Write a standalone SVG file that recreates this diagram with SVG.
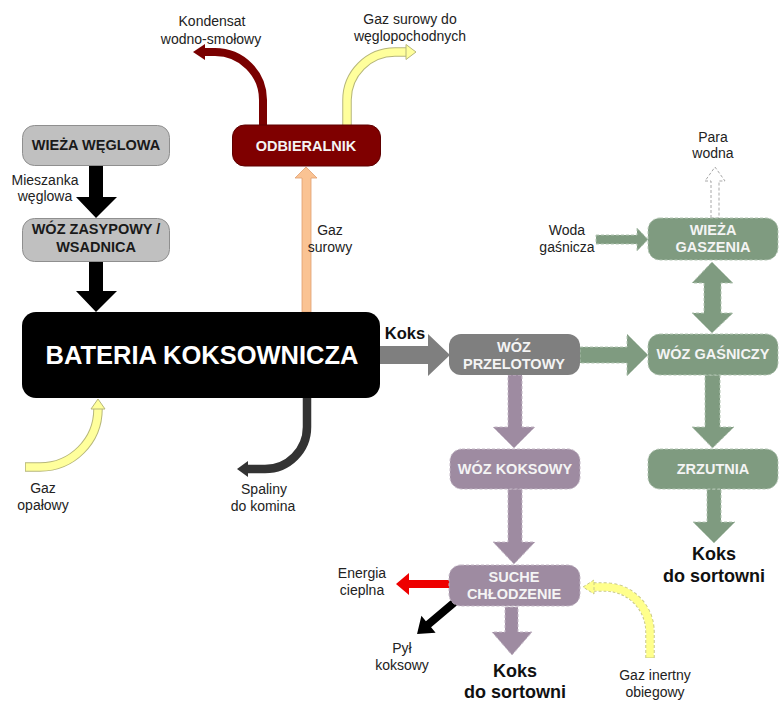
<svg xmlns="http://www.w3.org/2000/svg" width="782" height="702" viewBox="0 0 782 702">
<style>
text{font-family:"Liberation Sans",Arial,sans-serif;text-anchor:middle}
.lbl{font-size:14px;fill:#222}
.nt{font-size:14.5px;font-weight:bold}
.dark{fill:#1a1a1a}
.light{fill:#f4f4f4}
.big{font-size:18px;font-weight:bold;fill:#111}
.grayn{fill:#c0c0c0;stroke:#8f8f8f;stroke-width:1}
.pur{fill:#9e8ba1;stroke:#c4b8c6;stroke-width:1;stroke-dasharray:3 2}
.grn{fill:#7f9b80;stroke:#b4c6b4;stroke-width:1;stroke-dasharray:3 2}
</style>
<rect width="782" height="702" fill="#fff"/>
<g id="connectors">
  <polygon points="89,165 103,165 103,197 117,197 96,218 76,197 89,197" fill="#000"/>
  <polygon points="89,262 103,262 103,291 117,291 96,312 76,291 89,291" fill="#000"/>
  <polygon points="302,312 302,178 295,178 306,167 317,178 311,178 311,312" fill="#fac393" stroke="#e0a070" stroke-width="0.8"/>
  <path d="M263,125 L263,100 A48,48 0 0 0 215,52 L204,52" fill="none" stroke="#7a0000" stroke-width="8"/>
  <polygon points="205,44 193,52 205,60" fill="#7a0000"/>
  <path d="M347,125 L347,100 A48,48 0 0 1 395,52 L406,52" fill="none" stroke="#b7b77a" stroke-width="9.5"/>
  <path d="M347,125 L347,100 A48,48 0 0 1 395,52 L407,52" fill="none" stroke="#ffff9c" stroke-width="7.5"/>
  <polygon points="406,44.5 416,52 406,59.5" fill="#ffff9c" stroke="#b7b77a" stroke-width="1"/>
  <path d="M25,467 L40,467 A58,58 0 0 0 98,409 L98,408" fill="none" stroke="#b7b77a" stroke-width="9.5"/>
  <path d="M25.8,467 L40,467 A58,58 0 0 0 98,409 L98,407" fill="none" stroke="#ffff9c" stroke-width="7.5"/>
  <polygon points="91,409 98,399 105,409" fill="#ffff9c" stroke="#b7b77a" stroke-width="1"/>
  <path d="M307,397 L307,427 A42,42 0 0 1 265,469 L247,469" fill="none" stroke="#333" stroke-width="8.5"/>
  <polygon points="248,461 237,469 248,477" fill="#333"/>
  <polygon points="379,346 428,346 428,334 450,355 428,376 428,364 379,364" fill="#7f7f7f"/>
  <polygon class="grn" points="580,347 627,347 627,334 648,355 627,376 627,363 580,363"/>
  <polygon class="grn" points="596,235 637,235 637,228 648,239.5 637,251 637,244 596,244"/>
  <polygon class="grn" points="712,262 733,283 721,283 721,313 733,313 712,333 692,313 704,313 704,283 692,283"/>
  <polygon class="grn" points="705,375 720,375 720,427 734,427 712.5,448 692,427 705,427"/>
  <polygon class="grn" points="707,489 721,489 721,522 735,522 714,543 693,522 707,522"/>
  <polygon points="711,218 711,181 705,181 715,167 725,181 719,181 719,218" fill="#fff" stroke="#a8a8a8" stroke-width="1" stroke-dasharray="3 2"/>
  <polygon class="pur" points="508,375 522,375 522,427 535,427 514,448 493,427 508,427"/>
  <polygon class="pur" points="508,489 522,489 522,542 535,542 514,564 493,542 508,542"/>
  <polygon class="pur" points="505,607 518,607 518,632 532,632 512,655 492,632 505,632"/>
  <polygon points="449,580 409,580 409,573 396,584 409,595 409,588 449,588" fill="#ee0000"/>
  <polygon points="0,-4 36,-4 36,-11 51,0 36,11 36,4 0,4" fill="#000" transform="translate(456,601) rotate(139.8)"/>
  <path d="M650,658 L650,632 A45,45 0 0 0 605,587 L594,587" fill="none" stroke="#c9c98a" stroke-width="9.5" stroke-dasharray="3 2"/>
  <path d="M650,657.5 L650,632 A45,45 0 0 0 605,587 L593,587" fill="none" stroke="#ffff8c" stroke-width="7.5"/>
  <polygon points="594,580 583,587 594,594" fill="#ffff8c" stroke="#c9c98a" stroke-width="1" stroke-dasharray="3 2"/>
</g>
<g id="n-wieza-weglowa">
  <rect class="grayn" x="22.5" y="125.5" width="147" height="40" rx="12"/>
  <text class="nt dark" x="96" y="150">WIEŻA WĘGLOWA</text>
</g>
<g id="n-woz-zasypowy">
  <rect class="grayn" x="22.5" y="218.5" width="147" height="43" rx="12"/>
  <text class="nt dark" x="96" y="234">WÓZ ZASYPOWY /</text>
  <text class="nt dark" x="96" y="252">WSADNICA</text>
</g>
<g id="n-bateria">
  <rect x="22" y="312" width="358" height="86" rx="14" fill="#000"/>
  <text x="202" y="364" font-size="25.5" font-weight="bold" fill="#fff">BATERIA KOKSOWNICZA</text>
</g>
<g id="n-odbieralnik">
  <rect x="232.5" y="125" width="148" height="41" rx="12" fill="#7f0000" stroke="#5e0000"/>
  <text class="nt light" x="306" y="150.5">ODBIERALNIK</text>
</g>
<g id="n-woz-przelotowy">
  <rect x="449" y="334" width="131" height="41" rx="12" fill="#7f7f7f"/>
  <text class="nt light" x="514" y="352">WÓZ</text>
  <text class="nt light" x="514" y="369">PRZELOTOWY</text>
</g>
<g id="n-woz-koksowy">
  <rect class="pur" x="450" y="449" width="130" height="40" rx="12"/>
  <text class="nt light" x="515" y="474">WÓZ KOKSOWY</text>
</g>
<g id="n-suche-chlodzenie">
  <rect class="pur" x="449" y="565" width="131" height="41" rx="12"/>
  <text class="nt light" x="514" y="582">SUCHE</text>
  <text class="nt light" x="514" y="599">CHŁODZENIE</text>
</g>
<g id="n-wieza-gaszenia">
  <rect class="grn" x="648" y="218" width="130" height="42" rx="12"/>
  <text class="nt light" x="713" y="235">WIEŻA</text>
  <text class="nt light" x="713" y="252">GASZENIA</text>
</g>
<g id="n-woz-gasniczy">
  <rect class="grn" x="648" y="334" width="130" height="41" rx="12"/>
  <text class="nt light" x="713" y="359">WÓZ GAŚNICZY</text>
</g>
<g id="n-zrzutnia">
  <rect class="grn" x="648" y="449" width="130" height="40" rx="12"/>
  <text class="nt light" x="713" y="474">ZRZUTNIA</text>
</g>
<g id="labels">
  <text class="lbl" x="212" y="26">Kondensat</text>
  <text class="lbl" x="211" y="44">wodno-smołowy</text>
  <text class="lbl" x="410" y="24">Gaz surowy do</text>
  <text class="lbl" x="410" y="41">węglopochodnych</text>
  <text class="lbl" x="45" y="185">Mieszanka</text>
  <text class="lbl" x="45" y="201">węglowa</text>
  <text class="lbl" x="330" y="235">Gaz</text>
  <text class="lbl" x="330" y="252">surowy</text>
  <text class="lbl" x="43" y="493">Gaz</text>
  <text class="lbl" x="43" y="510">opałowy</text>
  <text class="lbl" x="264" y="494">Spaliny</text>
  <text class="lbl" x="263" y="511">do komina</text>
  <text x="405" y="339" font-size="16.5" font-weight="bold" fill="#111">Koks</text>
  <text class="lbl" x="713" y="142">Para</text>
  <text class="lbl" x="713" y="158">wodna</text>
  <text class="lbl" x="567" y="235">Woda</text>
  <text class="lbl" x="567" y="252">gaśnicza</text>
  <text class="big" x="714" y="560">Koks</text>
  <text class="big" x="714" y="582">do sortowni</text>
  <text class="lbl" x="362" y="578">Energia</text>
  <text class="lbl" x="362" y="595">cieplna</text>
  <text class="lbl" x="402" y="653">Pył</text>
  <text class="lbl" x="402" y="670">koksowy</text>
  <text class="big" x="515" y="677">Koks</text>
  <text class="big" x="515" y="698">do sortowni</text>
  <text class="lbl" x="655" y="680">Gaz inertny</text>
  <text class="lbl" x="655" y="697">obiegowy</text>
</g>
</svg>
